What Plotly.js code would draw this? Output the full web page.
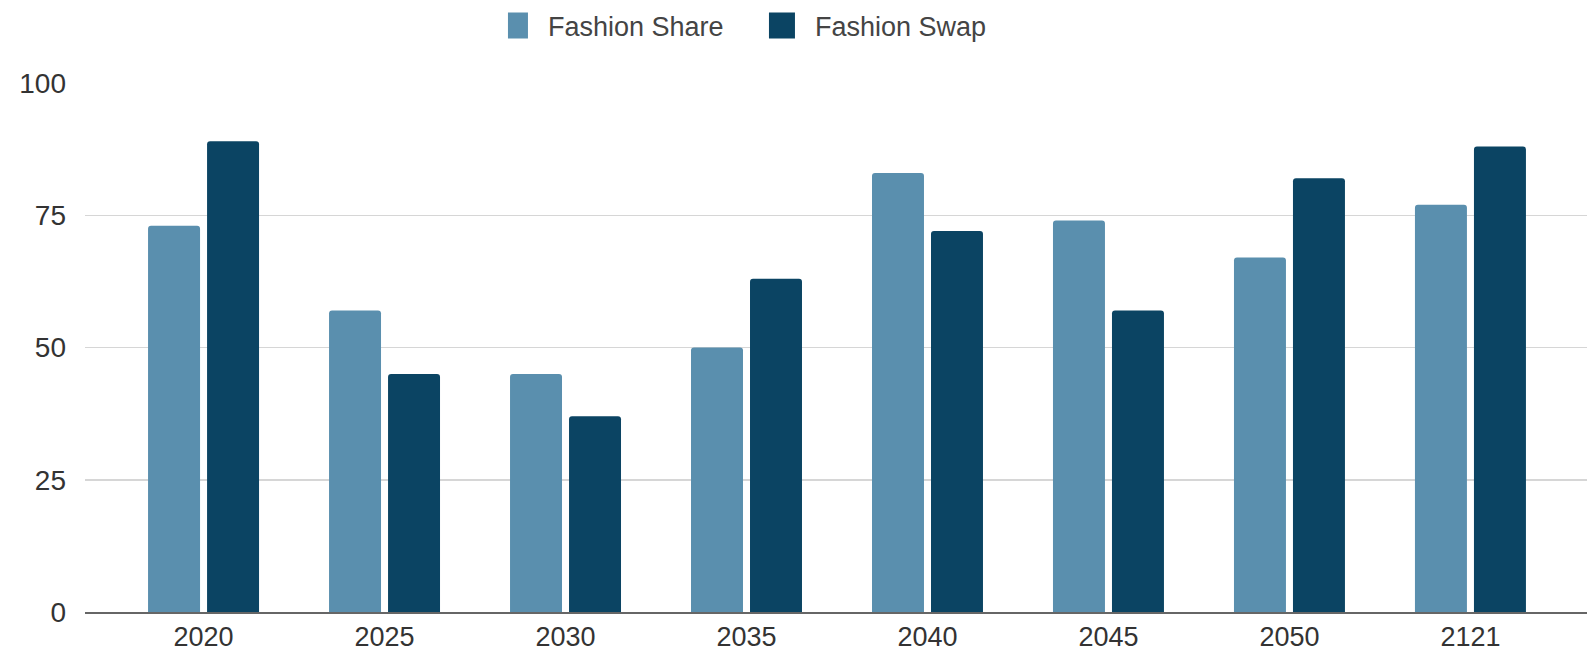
<!DOCTYPE html>
<html>
<head>
<meta charset="utf-8">
<script src="https://cdn.plot.ly/plotly-3.0.1.min.js"></script>
<style>html,body{margin:0;padding:0;background:#fff;}#chart{width:1587px;height:653px;}</style>
</head>
<body>
<div id="chart"></div>
<script>
const categories = ["2020", "2025", "2030", "2035", "2040", "2045", "2050", "2121"];
const fashionShare = [73, 57, 45, 50, 83, 74, 67, 77];
const fashionSwap = [89, 45, 37, 63, 72, 57, 82, 88];
const seriesNames = ["Fashion Share", "Fashion Swap"];
const yTicks = [0, 25, 50, 75, 100];

const colShare = "#5a8fae";
const colSwap = "#0b4463";

const traces = [
  {type: "bar", name: seriesNames[0], x: categories, y: fashionShare,
   marker: {color: colShare, cornerradius: 3}, hoverinfo: "x+y+name"},
  {type: "bar", name: seriesNames[1], x: categories, y: fashionSwap,
   marker: {color: colSwap, cornerradius: 3}, hoverinfo: "x+y+name"}
];

const layout = {
  width: 1587, height: 653,
  margin: {l: 85, r: 0, t: 83, b: 41, pad: 0},
  paper_bgcolor: "#ffffff", plot_bgcolor: "#ffffff",
  font: {family: "Liberation Sans, Arial, sans-serif", color: "#444", size: 27},
  barmode: "group",
  bargap: 0.348,
  bargroupgap: 0.119,
  showlegend: true,
  legend: {orientation: "h", x: 0.2816, xanchor: "left", y: 1.108, yanchor: "middle",
           font: {size: 27, color: "#444"}, entrywidth: 222, entrywidthmode: "pixels",
           bgcolor: "rgba(0,0,0,0)", borderwidth: 0},
  xaxis: {type: "category", range: [-0.655, 7.644], showgrid: false, zeroline: false,
          showline: true, linecolor: "#666", linewidth: 2, ticks: "",
          tickfont: {size: 27, color: "#333"}, ticklabelstandoff: 0, automargin: false, fixedrange: true},
  yaxis: {range: [0, 100], tickvals: yTicks, ticktext: yTicks.map(String), showgrid: true,
          gridcolor: "#d6d6d6", gridwidth: 1.5, zeroline: false, showline: false, ticks: "",
          tickfont: {size: 28, color: "#333"}, ticklabelstandoff: 18, automargin: false, fixedrange: true}
};

Plotly.newPlot("chart", traces, layout, {staticPlot: true}).then(function () {
  document.querySelectorAll("#chart .legendpoints path").forEach(function (p) {
    p.setAttribute("d", "M0,13H-26V-13H0Z");
  });
});
</script>
</body>
</html>
